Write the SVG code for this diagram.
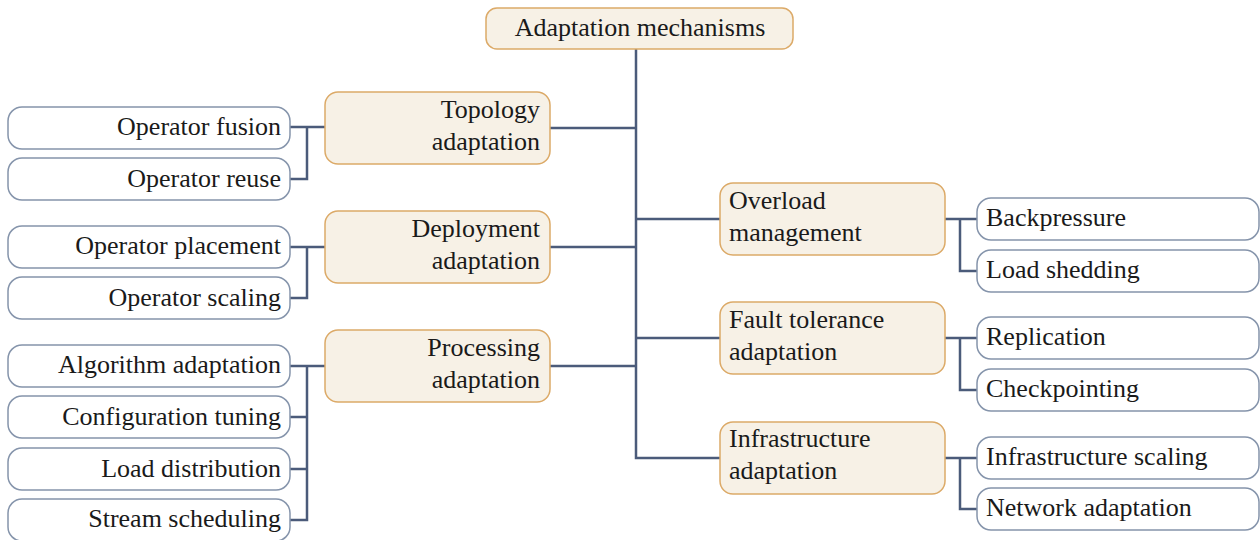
<svg xmlns="http://www.w3.org/2000/svg" width="1260" height="540" viewBox="0 0 1260 540">
  <defs>
    <!-- shared box looks -->
    <rect id="catbox" width="225" height="72" rx="13"/>
    <rect id="leafbox" width="282" height="42" rx="14"/>
  </defs>
  <rect width="1260" height="540" fill="#ffffff"/>

  <!-- connectors -->
  <g id="connectors" fill="none" stroke="#4b5b7a" stroke-width="2.5">
    <!-- trunk from root -->
    <path d="M636 49 V458 H720"/>
    <path d="M550 128 H636"/>
    <path d="M550 247 H636"/>
    <path d="M550 366 H636"/>
    <path d="M636 219 H720"/>
    <path d="M636 338 H720"/>
    <!-- left brackets -->
    <path d="M325 127 H290 M307 127 V179 H290"/>
    <path d="M325 247 H290 M307 247 V298 H290"/>
    <path d="M325 366 H290 M307 366 V520 H290 M307 417 H290 M307 469 H290"/>
    <!-- right brackets -->
    <path d="M944 219 H977 M960 219 V271 H977"/>
    <path d="M944 338 H977 M960 338 V390 H977"/>
    <path d="M944 458 H977 M960 458 V509 H977"/>
  </g>

  <!-- root -->
  <g id="root">
    <rect x="486" y="8" width="307" height="41" rx="11" fill="#f7f1e6" stroke="#dcaa68" stroke-width="1.5"/>
    <text x="640" y="36" text-anchor="middle" font-family="Liberation Serif" font-size="26" fill="#1a1a1a">Adaptation mechanisms</text>
  </g>

  <!-- categories -->
  <g fill="#f7f1e6" stroke="#dcaa68" stroke-width="1.5">
    <g id="topology"><use href="#catbox" x="325" y="92"/></g>
    <g id="deployment"><use href="#catbox" x="325" y="211"/></g>
    <g id="processing"><use href="#catbox" x="325" y="330"/></g>
    <g id="overload"><use href="#catbox" x="720" y="183"/></g>
    <g id="fault"><use href="#catbox" x="720" y="302"/></g>
    <g id="infrastructure"><use href="#catbox" x="720" y="422"/></g>
  </g>
  <g id="category-labels" fill="#1a1a1a" stroke="none">
    <text x="540" y="118" text-anchor="end" font-family="Liberation Serif" font-size="26">Topology</text>
    <text x="540" y="150" text-anchor="end" font-family="Liberation Serif" font-size="26">adaptation</text>
    <text x="540" y="237" text-anchor="end" font-family="Liberation Serif" font-size="26">Deployment</text>
    <text x="540" y="269" text-anchor="end" font-family="Liberation Serif" font-size="26">adaptation</text>
    <text x="540" y="356" text-anchor="end" font-family="Liberation Serif" font-size="26">Processing</text>
    <text x="540" y="388" text-anchor="end" font-family="Liberation Serif" font-size="26">adaptation</text>
    <text x="729" y="209" font-family="Liberation Serif" font-size="26">Overload</text>
    <text x="729" y="241" font-family="Liberation Serif" font-size="26">management</text>
    <text x="729" y="328" font-family="Liberation Serif" font-size="26">Fault tolerance</text>
    <text x="729" y="360" font-family="Liberation Serif" font-size="26">adaptation</text>
    <text x="729" y="447" font-family="Liberation Serif" font-size="26">Infrastructure</text>
    <text x="729" y="479" font-family="Liberation Serif" font-size="26">adaptation</text>
  </g>

  <!-- leaves -->
  <g fill="#ffffff" stroke="#8594ab" stroke-width="1.5">
    <g id="op-fusion"><use href="#leafbox" x="8" y="107"/></g>
    <g id="op-reuse"><use href="#leafbox" x="8" y="158"/></g>
    <g id="op-placement"><use href="#leafbox" x="8" y="226"/></g>
    <g id="op-scaling"><use href="#leafbox" x="8" y="277"/></g>
    <g id="algorithm"><use href="#leafbox" x="8" y="345"/></g>
    <g id="config"><use href="#leafbox" x="8" y="396"/></g>
    <g id="load-dist"><use href="#leafbox" x="8" y="448"/></g>
    <g id="stream-sched"><use href="#leafbox" x="8" y="499"/></g>
    <g id="backpressure"><use href="#leafbox" x="977" y="198"/></g>
    <g id="load-shedding"><use href="#leafbox" x="977" y="250"/></g>
    <g id="replication"><use href="#leafbox" x="977" y="317"/></g>
    <g id="checkpointing"><use href="#leafbox" x="977" y="369"/></g>
    <g id="infra-scaling"><use href="#leafbox" x="977" y="437"/></g>
    <g id="network"><use href="#leafbox" x="977" y="488"/></g>
  </g>
  <g id="leaf-labels" fill="#1a1a1a">
    <text x="281" y="135" text-anchor="end" font-family="Liberation Serif" font-size="26">Operator fusion</text>
    <text x="281" y="187" text-anchor="end" font-family="Liberation Serif" font-size="26">Operator reuse</text>
    <text x="281" y="254" text-anchor="end" font-family="Liberation Serif" font-size="26">Operator placement</text>
    <text x="281" y="306" text-anchor="end" font-family="Liberation Serif" font-size="26">Operator scaling</text>
    <text x="281" y="373" text-anchor="end" font-family="Liberation Serif" font-size="26">Algorithm adaptation</text>
    <text x="281" y="425" text-anchor="end" font-family="Liberation Serif" font-size="26">Configuration tuning</text>
    <text x="281" y="477" text-anchor="end" font-family="Liberation Serif" font-size="26">Load distribution</text>
    <text x="281" y="527" text-anchor="end" font-family="Liberation Serif" font-size="26">Stream scheduling</text>
    <text x="986" y="226" font-family="Liberation Serif" font-size="26">Backpressure</text>
    <text x="986" y="278" font-family="Liberation Serif" font-size="26">Load shedding</text>
    <text x="986" y="345" font-family="Liberation Serif" font-size="26">Replication</text>
    <text x="986" y="397" font-family="Liberation Serif" font-size="26">Checkpointing</text>
    <text x="986" y="465" font-family="Liberation Serif" font-size="26">Infrastructure scaling</text>
    <text x="986" y="516" font-family="Liberation Serif" font-size="26">Network adaptation</text>
  </g>
</svg>
